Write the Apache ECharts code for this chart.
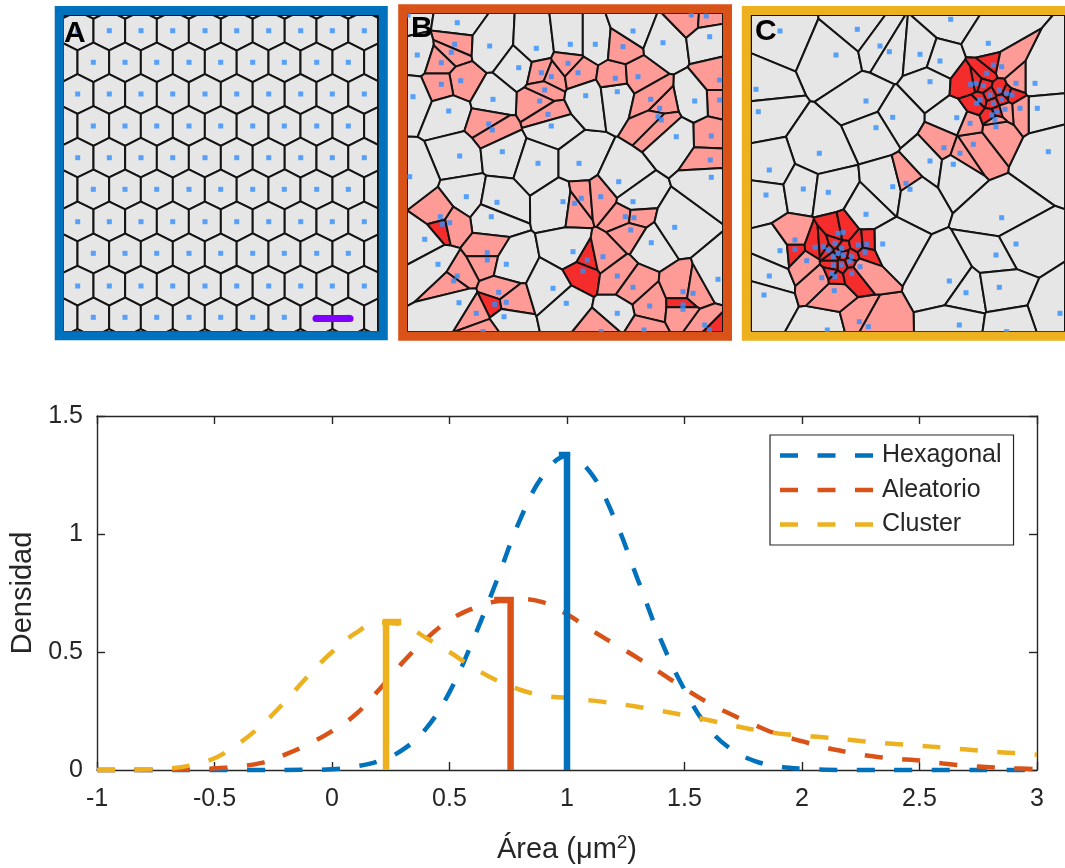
<!DOCTYPE html>
<html>
<head>
<meta charset="utf-8">
<script src="https://cdn.jsdelivr.net/npm/echarts@6/dist/echarts.min.js"></script>
<style>
  html, body { margin: 0; padding: 0; background: #fff; }
  #chart { width: 1065px; height: 868px; }
</style>
</head>
<body>
<div id="chart"></div>
<script>
// ---------- density curves (area in µm², density) ----------
const areaX = [-1.0, -0.9, -0.8, -0.7, -0.6, -0.5, -0.4, -0.3, -0.2, -0.1,
  0.0, 0.1, 0.2, 0.3, 0.4, 0.5, 0.6, 0.7, 0.8, 0.9,
  1.0, 1.1, 1.2, 1.3, 1.4, 1.5, 1.6, 1.7, 1.8, 1.9,
  2.0, 2.1, 2.2, 2.3, 2.4, 2.5, 2.6, 2.7, 2.8, 2.9, 3.0];

const hexagonalDensity = [0, 0, 0, 0, 0, 0, 0, 0, 0, 0.001,
  0.003, 0.015, 0.038, 0.085, 0.175, 0.33, 0.55, 0.80, 1.06, 1.25,
  1.33, 1.26, 1.07, 0.81, 0.55, 0.34, 0.18, 0.087, 0.038, 0.015,
  0.005, 0.0015, 0, 0, 0, 0, 0, 0, 0, 0, 0];

const aleatorioDensity = [0, 0, 0, 0.001, 0.003, 0.007, 0.015, 0.03, 0.065, 0.11,
  0.165, 0.235, 0.34, 0.455, 0.555, 0.635, 0.685, 0.715, 0.725, 0.71,
  0.66, 0.595, 0.535, 0.475, 0.41, 0.345, 0.285, 0.235, 0.19, 0.15,
  0.122, 0.095, 0.075, 0.058, 0.048, 0.04, 0.028, 0.018, 0.012, 0.007, 0.004];

const clusterDensity = [0, 0, 0.002, 0.006, 0.02, 0.05, 0.11, 0.19, 0.29, 0.40,
  0.50, 0.58, 0.625, 0.615, 0.56, 0.50, 0.435, 0.38, 0.34, 0.315,
  0.305, 0.295, 0.283, 0.268, 0.25, 0.232, 0.212, 0.19, 0.17, 0.155,
  0.145, 0.138, 0.128, 0.118, 0.11, 0.103, 0.095, 0.087, 0.078, 0.072, 0.065];

// mean area markers: [hook start x, mean x, height]
const hexagonalMean = [0.965, 1.0, 1.335];
const aleatorioMean = [0.69, 0.76, 0.72];
const clusterMean = [0.295, 0.23, 0.627];

const seriesNames = ['Hexagonal', 'Aleatorio', 'Cluster'];
const seriesColors = ['#0072BD', '#D95319', '#EDB120'];
const xTicks = { min: -1, max: 3, step: 0.5 };
const yTicks = { min: 0, max: 1.5, step: 0.5 };

// ---------- seed positions of the three tessellations ----------
// A: hexagonal lattice, rows alternate between the two column sets
const hexRowY = [-16, 15.7, 47.3, 79, 111, 142.7, 174.3, 206.7, 238.3, 271, 302.3, 334];
const hexColEven = [-17, 14.7, 46.3, 78, 109.7, 142, 173.7, 205.7, 237.7, 269.3, 301.3, 333];
const hexColOdd = [-1.3, 30.3, 62, 93.7, 126, 157.7, 189.7, 221.3, 253.7, 285.3, 317, 349];
const scaleBar = [[253, 303.5], [287, 303.5]];

// B: random points  [x, y, class]  class 0 normal, 1 small cell, 2 very small cell
const randomSeeds = [
  [1, 2, 0], [50.3, 9.7, 0], [47.7, 31.3, 1], [44.3, 39.3, 1], [10.3, 42, 0], [34.3, 49.7, 1], [53.7, 67.7, 1], [34.3, 71.3, 1], [6, 83.7, 0], [41.7, 98, 0],
  [82.7, 33, 0], [111.7, 54.7, 0], [129.3, 35.3, 0], [163.3, 31.3, 0], [188.3, 31.3, 0], [134.3, 59.7, 1], [144.3, 63.7, 1], [161, 50.3, 1], [171, 59.7, 1], [137.7, 77, 1],
  [132.7, 88, 1], [141, 101.3, 1], [144.3, 113, 0], [86, 86.3, 0], [81.7, 111, 1], [85.3, 117, 1], [52.7, 143, 0], [95.3, 138.7, 0], [131, 150.3, 0], [172, 150.3, 0],
  [178.7, 82.7, 0], [210.3, 78.7, 0], [208.3, 65.3, 1], [231, 63.7, 1], [216, 33.7, 1], [226, 18, 0], [256, 29.7, 0], [284.3, 2, 1], [299.3, 3, 1], [302.7, 23.7, 0],
  [312.7, 67, 1], [312.7, 87, 1], [287.7, 88, 0], [243.7, 86.3, 1], [252.7, 95.3, 1], [251, 103.7, 1], [254.3, 107, 1], [269.3, 123.7, 0], [304.3, 123, 1], [303.3, 147, 1],
  [2.7, 163.7, 0], [59.3, 183.7, 0], [90, 189.3, 0], [84.3, 203.7, 0], [33.3, 203.7, 1], [35.3, 211.3, 2], [42.7, 209.7, 1], [17.7, 226.3, 0], [80.3, 239.7, 1], [80.3, 247, 1],
  [31, 251.3, 0], [99.3, 251.3, 0], [50.3, 263, 1], [46.7, 268, 1], [52, 289.7, 0], [91.7, 279.3, 1], [87.7, 291.3, 2], [99.3, 289.3, 1], [69.3, 300.3, 1], [97, 303.7, 0],
  [76, 318.7, 1], [156, 188.7, 0], [167.7, 190.3, 1], [174.3, 185.3, 1], [193.7, 183.7, 1], [211.7, 168.7, 0], [226, 188.7, 0], [218.3, 203.7, 1], [227, 204.7, 1], [223.7, 217, 1],
  [244.3, 229.7, 0], [267.7, 214.3, 0], [304.3, 164.3, 0], [166, 238.7, 0], [180.3, 247, 2], [196, 243.7, 1], [176, 258, 2], [146, 275.3, 0], [159.3, 290.3, 0], [210.3, 263, 1],
  [226, 274.3, 1], [242.7, 293, 1], [210.3, 300.3, 0], [276, 278.7, 1], [286, 280.3, 1], [276, 292, 2], [276, 296.3, 1], [311, 266.3, 0], [297.7, 312, 1], [302.7, 317, 2],
  [237, 317, 1], [194.3, 318.7, 1]
];

// C: clustered points  [x, y, class]
const clusterSeeds = [
  [29, 16, 0], [106.3, 14.3, 0], [199.7, 4.3, 0], [85, 40, 0], [129, 31, 0], [138.3, 36.7, 0], [169, 39.3, 0], [189, 46, 0], [237.3, 28.3, 0], [5, 74.3, 0],
  [7.3, 96.7, 0], [115, 86, 0], [179, 66.7, 0], [141.7, 102.3, 0], [125, 112.7, 0], [205.7, 102.7, 0], [68.3, 138.3, 0], [18.3, 155, 0], [193, 132.7, 1], [209, 138.3, 1],
  [222.3, 129.3, 1], [179, 146, 0], [202.3, 149.3, 0], [284, 68.3, 0], [286.3, 93.3, 0], [269, 93.3, 1], [265, 68.3, 1], [297.3, 136.7, 0], [245, 111.7, 1], [219, 108.3, 1],
  [242.3, 50, 2], [250.7, 51.7, 1], [235.7, 58.3, 2], [225, 68.3, 2], [232.3, 70.7, 2], [219.7, 69.3, 2], [248.3, 75, 2], [255.7, 78.3, 2], [239, 80, 2], [229, 85, 2],
  [242.3, 88.3, 2], [250.7, 84.3, 2], [225.7, 88.3, 2], [245.7, 96.7, 2], [240.7, 100, 2], [261, 80, 2], [254, 94.3, 1], [244, 105, 1],
  [15, 180, 0], [52.3, 174, 0], [77.3, 177.3, 0], [141.7, 171.7, 0], [155, 168.3, 1], [159, 174.3, 0], [115, 199.3, 0], [250.7, 202.7, 0], [265, 229, 0], [245, 240, 0],
  [131.7, 229, 0], [29, 235.7, 0], [18.3, 261, 0], [13, 280, 0], [198.3, 266, 0], [215, 277.7, 0], [248.3, 272.3, 0], [309, 298.3, 0], [208.3, 310, 0], [255.7, 316.7, 0],
  [76.3, 315, 0], [108.3, 306.7, 1], [117.3, 311.7, 1], [83.3, 275.7, 1], [70.7, 262.7, 1], [55.7, 245.7, 1],
  [44, 225, 1], [44, 234.3, 2], [64, 232.3, 2], [72.3, 231.7, 2], [77.3, 235, 2], [87.3, 218.3, 2], [92.3, 217.3, 2], [84, 228.3, 2], [90.7, 233.3, 2], [87.3, 238.3, 2],
  [92.3, 240, 2], [82.3, 241.7, 2], [100.7, 241.7, 2], [99, 246.7, 2], [107.3, 230, 2], [115.7, 229.3, 2], [114, 237.3, 2], [90.7, 250, 2], [82.3, 250, 2], [80.7, 258.3, 2],
  [84, 261.7, 2], [100.7, 258.3, 2], [109, 251.7, 1]
];

// ---------- helpers ----------
const FONT = '"Liberation Sans", Arial, Helvetica, sans-serif';
const TEXT = '#262626';
const CELL_FILL = ['#e6e6e6', '#ff9b97', '#f42c2c'];
const DOT = '#2f8fff';
// three-dash legend sample, same rhythm as the plotted dashes
const DASH_ICON = 'path://M0,0H18V4.5H0Z M37.5,0H55.5V4.5H37.5Z M75,0H93V4.5H75Z';

function hexLattice() {
  const pts = [];
  hexRowY.forEach((y, r) => {
    const cols = (r % 2 === 1) ? hexColEven : hexColOdd;
    cols.forEach(x => pts.push([x, y, 0]));
  });
  return pts;
}

// keep the part of polygon where a*x + b*y <= c
function clipHalfPlane(poly, a, b, c) {
  const out = [];
  for (let k = 0; k < poly.length; k++) {
    const P = poly[k], Q = poly[(k + 1) % poly.length];
    const fp = a * P[0] + b * P[1] - c;
    const fq = a * Q[0] + b * Q[1] - c;
    if (fp <= 0) out.push(P);
    if ((fp < 0 && fq > 0) || (fp > 0 && fq < 0)) {
      const t = fp / (fp - fq);
      out.push([P[0] + t * (Q[0] - P[0]), P[1] + t * (Q[1] - P[1])]);
    }
  }
  return out;
}

// Voronoi cell of every seed, restricted to the visible window
function voronoiCells(pts, x0, x1, y0, y1) {
  return pts.map((p, i) => {
    let poly = [[x0, y0], [x1, y0], [x1, y1], [x0, y1]];
    for (let j = 0; j < pts.length && poly.length; j++) {
      if (j === i) continue;
      const q = pts[j];
      const a = q[0] - p[0], b = q[1] - p[1];
      if (a === 0 && b === 0) continue;
      const c = (q[0] * q[0] + q[1] * q[1] - p[0] * p[0] - p[1] * p[1]) / 2;
      poly = clipHalfPlane(poly, a, b, c);
    }
    return poly;
  });
}

const panels = [
  { seeds: hexLattice(), grid: { left: 63, top: 15, width: 315, height: 317 }, xr: [0, 315], yr: [0, 317] },
  { seeds: randomSeeds, grid: { left: 407, top: 13, width: 316, height: 319 }, xr: [0, 316], yr: [0, 319] },
  { seeds: clusterSeeds, grid: { left: 751, top: 15, width: 314, height: 317 }, xr: [0, 314], yr: [0, 317] }
];
panels.forEach(p => { p.cells = voronoiCells(p.seeds, p.xr[0], p.xr[1], p.yr[0], p.yr[1]); });

function cellSeries(idx) {
  const p = panels[idx];
  return {
    type: 'custom', xAxisIndex: idx, yAxisIndex: idx, silent: true, z: 1,
    data: p.seeds, encode: { x: 0, y: 1 },
    renderItem: (params, api) => {
      const cell = p.cells[params.dataIndex];
      if (!cell || cell.length < 3) return null;
      return {
        type: 'polygon',
        shape: { points: cell.map(v => api.coord(v)) },
        style: { fill: CELL_FILL[p.seeds[params.dataIndex][2]], stroke: '#141414', lineWidth: 2 }
      };
    }
  };
}
function dotSeries(idx) {
  return {
    type: 'scatter', xAxisIndex: idx, yAxisIndex: idx, silent: true, z: 3, clip: true,
    data: panels[idx].seeds.map(s => [s[0], s[1]]),
    symbol: 'rect', symbolSize: [5, 5], itemStyle: { color: DOT }
  };
}

const pairs = ys => areaX.map((x, i) => [x, ys[i]]);
function curveSeries(k, ys) {
  return {
    name: seriesNames[k], type: 'line', xAxisIndex: 3, yAxisIndex: 3,
    data: pairs(ys), symbol: 'none', smooth: 0.4, clip: false, z: 5,
    lineStyle: { color: seriesColors[k], width: 4.5, type: [18, 19.5], cap: 'butt' },
    itemStyle: { color: seriesColors[k] }
  };
}
function meanSeries(k, m) {
  return {
    name: seriesNames[k] + ' media', type: 'line', xAxisIndex: 3, yAxisIndex: 3,
    data: [[m[0], m[2]], [m[1], m[2]], [m[1], 0]], symbol: 'none', clip: false, z: 6,
    lineStyle: { color: seriesColors[k], width: 6.5, join: 'miter' }
  };
}

const hiddenAxis = (i, r, inverse) => ({ gridIndex: i, type: 'value', min: r[0], max: r[1], show: false, inverse: !!inverse });
const boxAxisLine = { show: true, onZero: false, lineStyle: { color: TEXT, width: 1.4 } };
const boxTick = { show: true, inside: true, length: 8, lineStyle: { color: TEXT, width: 1.4 } };

const option = {
  backgroundColor: '#ffffff',
  animation: false,
  grid: [
    Object.assign({}, panels[0].grid),
    Object.assign({}, panels[1].grid),
    Object.assign({}, panels[2].grid),
    { left: 97, top: 416, width: 940, height: 354 }
  ],
  xAxis: [
    hiddenAxis(0, panels[0].xr), hiddenAxis(1, panels[1].xr), hiddenAxis(2, panels[2].xr),
    {
      gridIndex: 3, type: 'value', position: 'bottom', min: xTicks.min, max: xTicks.max, interval: xTicks.step,
      name: 'Área (μm{sup|2})', nameLocation: 'middle', nameGap: 63,
      nameTextStyle: {
        fontFamily: FONT, fontSize: 29, color: TEXT,
        rich: { sup: { fontFamily: FONT, fontSize: 19, color: TEXT, verticalAlign: 'top', padding: [0, 0, 14, 0] } }
      },
      axisLine: boxAxisLine, axisTick: boxTick,
      axisLabel: { fontFamily: FONT, fontSize: 25, color: TEXT, margin: 17 },
      splitLine: { show: false }
    },
    {
      gridIndex: 3, type: 'value', position: 'top', min: xTicks.min, max: xTicks.max, interval: xTicks.step,
      axisLine: boxAxisLine, axisTick: boxTick, axisLabel: { show: false }, splitLine: { show: false }
    }
  ],
  yAxis: [
    hiddenAxis(0, panels[0].yr, true), hiddenAxis(1, panels[1].yr, true), hiddenAxis(2, panels[2].yr, true),
    {
      gridIndex: 3, type: 'value', position: 'left', min: yTicks.min, max: yTicks.max, interval: yTicks.step,
      name: 'Densidad', nameLocation: 'middle', nameGap: 60, nameRotate: 90,
      nameTextStyle: { fontFamily: FONT, fontSize: 29, color: TEXT },
      axisLine: boxAxisLine, axisTick: boxTick,
      axisLabel: { fontFamily: FONT, fontSize: 25, color: TEXT, margin: 14 },
      splitLine: { show: false }
    },
    {
      gridIndex: 3, type: 'value', position: 'right', min: yTicks.min, max: yTicks.max, interval: yTicks.step,
      axisLine: boxAxisLine, axisTick: boxTick, axisLabel: { show: false }, splitLine: { show: false }
    }
  ],
  legend: {
    data: seriesNames.map(n => ({ name: n, icon: DASH_ICON })),
    orient: 'vertical', left: 770, top: 435,
    itemWidth: 93, itemHeight: 4.5, itemGap: 9.5,
    padding: [8, 12, 8, 10],
    itemStyle: { borderWidth: 0 },
    borderColor: TEXT, borderWidth: 1.2, backgroundColor: '#ffffff',
    textStyle: { fontFamily: FONT, fontSize: 25, lineHeight: 25, color: TEXT, padding: [0, 0, 0, 4] },
    selectedMode: false
  },
  graphic: [
    { type: 'rect', z: 100, silent: true, shape: { x: 59.2, y: 10.5, width: 324.1, height: 325.3 }, style: { fill: null, stroke: '#0072BD', lineWidth: 9 } },
    { type: 'rect', z: 100, silent: true, shape: { x: 402.7, y: 8.7, width: 324.8, height: 327.6 }, style: { fill: null, stroke: '#D95319', lineWidth: 9 } },
    { type: 'rect', z: 100, silent: true, shape: { x: 746.3, y: 10.5, width: 340, height: 325.8 }, style: { fill: null, stroke: '#EDB120', lineWidth: 9 } },
    { type: 'text', z: 101, silent: true, x: 64, y: 19, style: { text: 'A', font: 'bold 30px ' + FONT, fill: '#000' } },
    { type: 'text', z: 101, silent: true, x: 411, y: 14, style: { text: 'B', font: 'bold 30px ' + FONT, fill: '#000' } },
    { type: 'text', z: 101, silent: true, x: 755, y: 17, style: { text: 'C', font: 'bold 30px ' + FONT, fill: '#000' } }
  ],
  series: [
    cellSeries(0), dotSeries(0),
    {
      type: 'line', xAxisIndex: 0, yAxisIndex: 0, data: scaleBar, symbol: 'none', z: 4, silent: true,
      lineStyle: { color: '#7f00ff', width: 7, cap: 'round' }
    },
    cellSeries(1), dotSeries(1),
    cellSeries(2), dotSeries(2),
    curveSeries(0, hexagonalDensity),
    curveSeries(1, aleatorioDensity),
    curveSeries(2, clusterDensity),
    meanSeries(0, hexagonalMean),
    meanSeries(1, aleatorioMean),
    meanSeries(2, clusterMean)
  ]
};

const chart = echarts.init(document.getElementById('chart'), null, { renderer: 'canvas' });
chart.setOption(option);
</script>
</body>
</html>
